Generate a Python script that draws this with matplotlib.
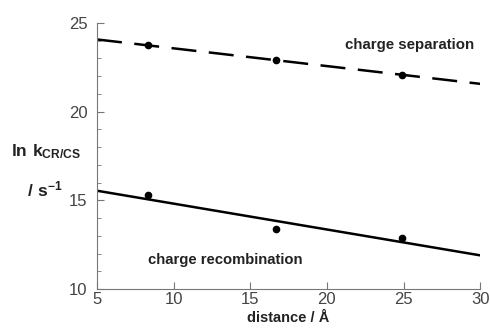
import matplotlib
matplotlib.use('Agg')
import numpy as np
import matplotlib.pyplot as plt
from matplotlib.ticker import MultipleLocator

#######################################################################
# Data

dist = [8.35, 16.66, 24.9]          # donor-acceptor distance / A
ln_cs = [23.74, 22.88, 22.07]       # charge separation
ln_cr = [15.29, 13.38, 12.87]       # charge recombination
fit_x = [5, 30]
fit_cs = [24.06, 21.56]
fit_cr = [15.54, 11.90]

#######################################################################
# Plotting

plt.rcParams['font.family'] = ['Liberation Sans', 'DejaVu Sans']
plt.rcParams['mathtext.fontset'] = 'custom'
plt.rcParams['mathtext.rm'] = 'Liberation Sans'
plt.rcParams['mathtext.bf'] = 'Liberation Sans:bold'
fig = plt.figure(figsize=(4.9, 3.3), dpi=100)
ax = fig.add_axes([0.198, 0.124, 0.782, 0.807])

ax.plot(fit_x, fit_cs, color='black', lw=1.8, dashes=(10, 5))
ax.plot(dist, ln_cs, 'o', color='black', ms=4.5)
ax.plot(fit_x, fit_cr, color='black', lw=1.8)
ax.plot(dist, ln_cr, 'o', color='black', ms=4.5)

ax.set_xlim(5, 30)
ax.set_ylim(10, 25)
ax.xaxis.set_major_locator(MultipleLocator(5))
ax.yaxis.set_major_locator(MultipleLocator(5))
ax.yaxis.set_minor_locator(MultipleLocator(1))
for s in ['top', 'right']:
    ax.spines[s].set_visible(False)
for s in ['left', 'bottom']:
    ax.spines[s].set_color('#777777')
    ax.spines[s].set_linewidth(0.8)
ax.tick_params(which='both', direction='in', color='#777777',
               labelcolor='#444444', labelsize=12)
ax.tick_params(which='major', length=5)
ax.tick_params(which='minor', length=3)
ax.tick_params(axis='x', pad=2)
ax.tick_params(axis='y', pad=7)

ax.text(21.2, 23.75, 'charge separation', fontsize=10.8, fontweight='bold',
        va='center', ha='left', color='#222222')
ax.text(8.3, 11.63, 'charge recombination', fontsize=10.7, fontweight='bold',
        va='center', ha='left', color='#222222')

ax.set_xlabel('distance / Å', fontsize=10.5, fontweight='bold',
              color='#222222', labelpad=3)
fig.text(0.022, 0.54, r'$\mathbf{ln\ k_{CR/CS}}$', fontsize=12.5,
         color='#222222', va='center', ha='left')
fig.text(0.056, 0.425, r'$\mathbf{/\ s^{-1}}$', fontsize=12.5,
         color='#222222', va='center', ha='left')

fig.savefig('out.png', dpi=100)
